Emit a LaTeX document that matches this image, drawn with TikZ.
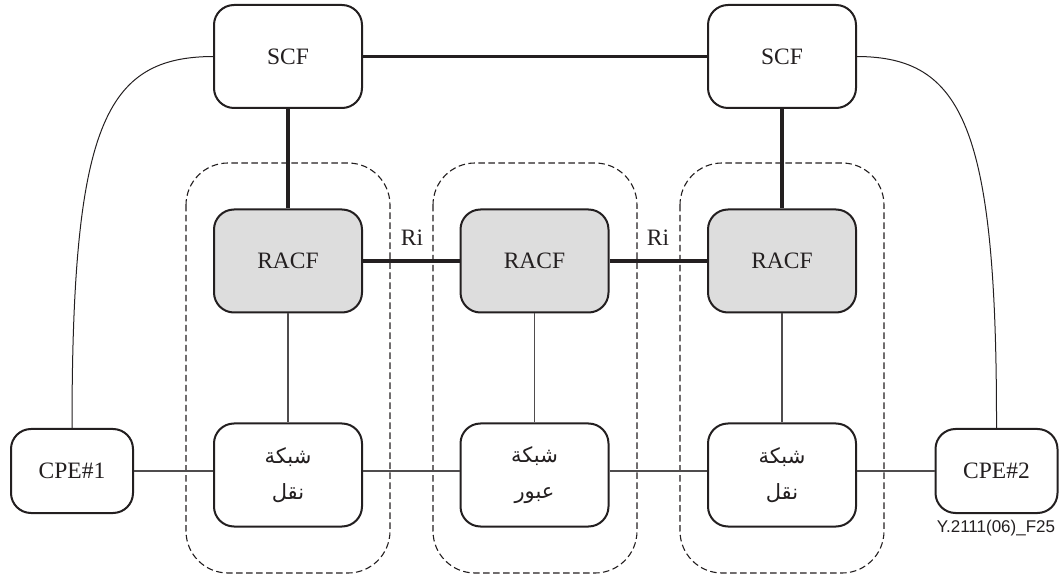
\documentclass[tikz,border=0pt]{standalone}
\usepackage{fontspec}
\setmainfont{Liberation Serif}
\newfontfamily\arabicfont[Script=Arabic]{DejaVu Sans}
\newfontfamily\labelfont{Liberation Sans}
\TeXXeTstate=1
\definecolor{ink}{HTML}{231F20}
\definecolor{racfgray}{HTML}{DDDDDD}
\begin{document}
\begin{tikzpicture}[x=1pt,y=-1pt,
  fbox/.style={draw=ink, line width=2pt, rounded corners=20pt, fill=white,
    minimum width=148pt, minimum height=103pt, inner sep=0pt,
    font=\fontsize{23.5}{27}\selectfont, text=ink},
  racfbox/.style={fbox, fill=racfgray},
  netbox/.style={fbox, align=center, font=\arabicfont\fontsize{21}{36}\selectfont},
  cpebox/.style={fbox, minimum width=122pt, minimum height=84pt},
  netdomain/.style={draw=ink, line width=1.1pt, dash pattern=on 6.5pt off 3.5pt, rounded corners=42pt},
  thick link/.style={draw=ink, line width=3.3pt},
  thin link/.style={draw=ink!80, line width=1.3pt},
  curve link/.style={draw=ink, line width=1pt},
  ri/.style={font=\fontsize{23.5}{27}\selectfont, text=ink, inner sep=0pt}]
\useasboundingbox (0,0) rectangle (1061,577);

% network domains
\draw[netdomain] (186,163) rectangle (390,573);
\draw[netdomain] (433,163) rectangle (637,573);
\draw[netdomain] (680,163) rectangle (884,573);

% functional entities
\node[fbox] (scf1) at (288,56.5) {SCF};
\node[fbox] (scf2) at (782,56.5) {SCF};
\node[racfbox] (racf1) at (288,261) {RACF};
\node[racfbox] (racf2) at (534.5,261) {RACF};
\node[racfbox] (racf3) at (782,261) {RACF};
\node[netbox] (net1) at (288,475) {\beginR شبكة\endR\\\beginR نقل\endR};
\node[netbox] (net2) at (534.5,475) {\beginR شبكة\endR\\\beginR عبور\endR};
\node[netbox] (net3) at (782,475) {\beginR شبكة\endR\\\beginR نقل\endR};
\node[cpebox] (cpe1) at (72,471) {CPE\#1};
\node[cpebox] (cpe2) at (996.5,471) {CPE\#2};

% control-plane links
\draw[thick link] (scf1.east) -- (scf2.west);
\draw[thick link] (scf1.south) -- (racf1.north);
\draw[thick link] (scf2.south) -- (racf3.north);
\draw[thick link] (racf1.east) -- (racf2.west);
\draw[thick link] (racf2.east) -- (racf3.west);
\node[ri] (ri1) at (412,238) {Ri};
\node[ri] (ri2) at (658,238) {Ri};

% transport links
\draw[thin link] (racf1.south) -- (net1.north);
\draw[thin link] (racf2.south) -- (net2.north);
\draw[thin link] (racf3.south) -- (net3.north);
\draw[thin link] (cpe1.east) -- (cpe1.east -| net1.west);
\draw[thin link] (net1.east |- cpe1.east) -- (net2.west |- cpe1.east);
\draw[thin link] (net2.east |- cpe1.east) -- (net3.west |- cpe1.east);
\draw[thin link] (net3.east |- cpe2.west) -- (cpe2.west);

% signalling to customer premises
\draw[curve link] (scf1.west) .. controls (105,57) and (72,125) .. (cpe1.north);
\draw[curve link] (scf2.east) .. controls (962,57) and (997,125) .. (cpe2.north);

\node[font=\labelfont\fontsize{17}{20}\selectfont, text=ink, inner sep=0pt] (figid) at (996,528) {Y.2111(06)\_F25};
\end{tikzpicture}
\end{document}
